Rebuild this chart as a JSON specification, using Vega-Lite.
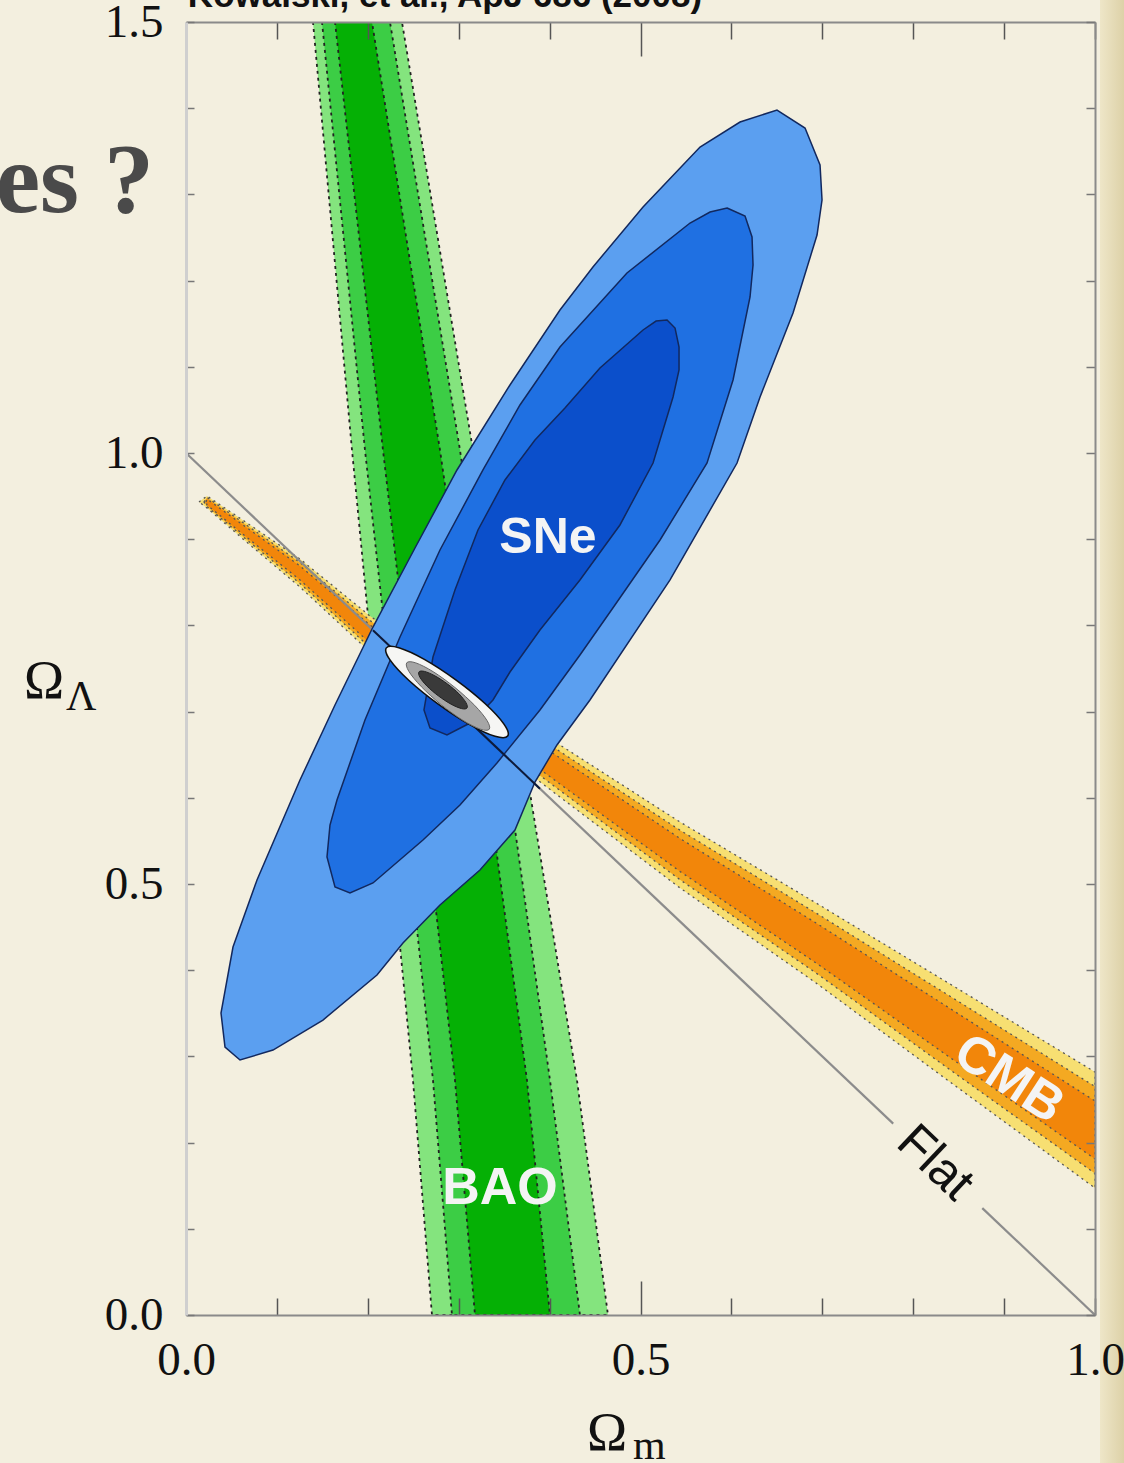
{
  "$schema": "https://vega.github.io/schema/vega-lite/v6.json",
  "width": 909,
  "height": 1293,
  "autosize": {"type": "none"},
  "padding": {"left": 186, "top": 22, "right": 29, "bottom": 148},
  "background": "#f3efdf",
  "config": {"view": {"stroke": null}},
  "datasets": {
    "poly": [
      {"g":"b1","i":0,"x":0.1397,"y":1.5},{"g":"b1","i":1,"x":0.1826,"y":1.0035},{"g":"b1","i":2,"x":0.2145,"y":0.6555},{"g":"b1","i":3,"x":0.2497,"y":0.2726},{"g":"b1","i":4,"x":0.2706,"y":0},{"g":"b1","i":5,"x":0.4642,"y":0},{"g":"b1","i":6,"x":0.4301,"y":0.2726},{"g":"b1","i":7,"x":0.3707,"y":0.6555},{"g":"b1","i":8,"x":0.3157,"y":1.0035},{"g":"b1","i":9,"x":0.2376,"y":1.5},
      {"g":"b2","i":0,"x":0.1496,"y":1.5},{"g":"b2","i":1,"x":0.1969,"y":1.0035},{"g":"b2","i":2,"x":0.2332,"y":0.6555},{"g":"b2","i":3,"x":0.2717,"y":0.2726},{"g":"b2","i":4,"x":0.2926,"y":0},{"g":"b2","i":5,"x":0.4334,"y":0},{"g":"b2","i":6,"x":0.4004,"y":0.2726},{"g":"b2","i":7,"x":0.3498,"y":0.6555},{"g":"b2","i":8,"x":0.3014,"y":1.0035},{"g":"b2","i":9,"x":0.2244,"y":1.5},
      {"g":"b3","i":0,"x":0.1639,"y":1.5},{"g":"b3","i":1,"x":0.2167,"y":1.0035},{"g":"b3","i":2,"x":0.2552,"y":0.6555},{"g":"b3","i":3,"x":0.2959,"y":0.2726},{"g":"b3","i":4,"x":0.3179,"y":0},{"g":"b3","i":5,"x":0.4004,"y":0},{"g":"b3","i":6,"x":0.3751,"y":0.2726},{"g":"b3","i":7,"x":0.3267,"y":0.6555},{"g":"b3","i":8,"x":0.2794,"y":1.0035},{"g":"b3","i":9,"x":0.2046,"y":1.5},
      {"g":"c1","i":0,"x":0.0143,"y":0.9432},{"g":"c1","i":1,"x":0.0231,"y":0.9501},{"g":"c1","i":2,"x":0.0704,"y":0.9165},{"g":"c1","i":3,"x":0.1254,"y":0.877},{"g":"c1","i":4,"x":0.2024,"y":0.8109},{"g":"c1","i":5,"x":0.3014,"y":0.7378},{"g":"c1","i":6,"x":0.4114,"y":0.6613},{"g":"c1","i":7,"x":0.5435,"y":0.5719},{"g":"c1","i":8,"x":0.6931,"y":0.478},{"g":"c1","i":9,"x":0.8405,"y":0.384},{"g":"c1","i":10,"x":1.0,"y":0.2819},{"g":"c1","i":11,"x":1.0,"y":0.1473},{"g":"c1","i":12,"x":0.8405,"y":0.2703},{"g":"c1","i":13,"x":0.6931,"y":0.3852},{"g":"c1","i":14,"x":0.5435,"y":0.4954},{"g":"c1","i":15,"x":0.4114,"y":0.6009},{"g":"c1","i":16,"x":0.3014,"y":0.6891},{"g":"c1","i":17,"x":0.2024,"y":0.7691},{"g":"c1","i":18,"x":0.1254,"y":0.8445},{"g":"c1","i":19,"x":0.0704,"y":0.8933},{"g":"c1","i":20,"x":0.0231,"y":0.9362},
      {"g":"c2","i":0,"x":0.0198,"y":0.9432},{"g":"c2","i":1,"x":0.0231,"y":0.9484},{"g":"c2","i":2,"x":0.0704,"y":0.9136},{"g":"c2","i":3,"x":0.1254,"y":0.873},{"g":"c2","i":4,"x":0.2024,"y":0.8057},{"g":"c2","i":5,"x":0.3014,"y":0.7317},{"g":"c2","i":6,"x":0.4114,"y":0.6537},{"g":"c2","i":7,"x":0.5435,"y":0.5624},{"g":"c2","i":8,"x":0.6931,"y":0.4664},{"g":"c2","i":9,"x":0.8405,"y":0.3698},{"g":"c2","i":10,"x":1.0,"y":0.2651},{"g":"c2","i":11,"x":1.0,"y":0.1642},{"g":"c2","i":12,"x":0.8405,"y":0.2845},{"g":"c2","i":13,"x":0.6931,"y":0.3968},{"g":"c2","i":14,"x":0.5435,"y":0.5049},{"g":"c2","i":15,"x":0.4114,"y":0.6085},{"g":"c2","i":16,"x":0.3014,"y":0.6952},{"g":"c2","i":17,"x":0.2024,"y":0.7744},{"g":"c2","i":18,"x":0.1254,"y":0.8486},{"g":"c2","i":19,"x":0.0704,"y":0.8962},{"g":"c2","i":20,"x":0.0231,"y":0.9379},
      {"g":"c3","i":0,"x":0.022,"y":0.9432},{"g":"c3","i":1,"x":0.0231,"y":0.9466},{"g":"c3","i":2,"x":0.0704,"y":0.9107},{"g":"c3","i":3,"x":0.1254,"y":0.8689},{"g":"c3","i":4,"x":0.2024,"y":0.8005},{"g":"c3","i":5,"x":0.3014,"y":0.7256},{"g":"c3","i":6,"x":0.4114,"y":0.6462},{"g":"c3","i":7,"x":0.5435,"y":0.5528},{"g":"c3","i":8,"x":0.6931,"y":0.4548},{"g":"c3","i":9,"x":0.8405,"y":0.3556},{"g":"c3","i":10,"x":1.0,"y":0.2483},{"g":"c3","i":11,"x":1.0,"y":0.181},{"g":"c3","i":12,"x":0.8405,"y":0.2987},{"g":"c3","i":13,"x":0.6931,"y":0.4084},{"g":"c3","i":14,"x":0.5435,"y":0.5145},{"g":"c3","i":15,"x":0.4114,"y":0.616},{"g":"c3","i":16,"x":0.3014,"y":0.7013},{"g":"c3","i":17,"x":0.2024,"y":0.7796},{"g":"c3","i":18,"x":0.1254,"y":0.8527},{"g":"c3","i":19,"x":0.0704,"y":0.8991},{"g":"c3","i":20,"x":0.0231,"y":0.9397},
      {"g":"s1","i":0,"x":0.6502,"y":1.3979},{"g":"s1","i":1,"x":0.681,"y":1.377},{"g":"s1","i":2,"x":0.6975,"y":1.3341},{"g":"s1","i":3,"x":0.6997,"y":1.2935},{"g":"s1","i":4,"x":0.6942,"y":1.2529},{"g":"s1","i":5,"x":0.6678,"y":1.1624},{"g":"s1","i":6,"x":0.6315,"y":1.065},{"g":"s1","i":7,"x":0.6062,"y":0.9884},{"g":"s1","i":8,"x":0.5325,"y":0.8527},{"g":"s1","i":9,"x":0.4444,"y":0.7135},{"g":"s1","i":10,"x":0.4081,"y":0.6613},{"g":"s1","i":11,"x":0.3839,"y":0.6183},{"g":"s1","i":12,"x":0.3619,"y":0.5626},{"g":"s1","i":13,"x":0.3234,"y":0.5162},{"g":"s1","i":14,"x":0.2794,"y":0.4756},{"g":"s1","i":15,"x":0.2387,"y":0.4316},{"g":"s1","i":16,"x":0.2101,"y":0.3944},{"g":"s1","i":17,"x":0.1507,"y":0.3422},{"g":"s1","i":18,"x":0.0957,"y":0.3074},{"g":"s1","i":19,"x":0.0594,"y":0.2958},{"g":"s1","i":20,"x":0.0429,"y":0.3109},{"g":"s1","i":21,"x":0.0385,"y":0.3503},{"g":"s1","i":22,"x":0.0517,"y":0.4269},{"g":"s1","i":23,"x":0.0781,"y":0.5046},{"g":"s1","i":24,"x":0.1254,"y":0.6206},{"g":"s1","i":25,"x":0.1639,"y":0.7077},{"g":"s1","i":26,"x":0.2057,"y":0.7981},{"g":"s1","i":27,"x":0.2519,"y":0.8898},{"g":"s1","i":28,"x":0.2981,"y":0.9803},{"g":"s1","i":29,"x":0.3564,"y":1.0789},{"g":"s1","i":30,"x":0.4114,"y":1.1659},{"g":"s1","i":31,"x":0.4477,"y":1.2158},{"g":"s1","i":32,"x":0.5028,"y":1.2854},{"g":"s1","i":33,"x":0.5655,"y":1.355},{"g":"s1","i":34,"x":0.6095,"y":1.384},
      {"g":"s2","i":0,"x":0.5952,"y":1.2842},{"g":"s2","i":1,"x":0.615,"y":1.2749},{"g":"s2","i":2,"x":0.6227,"y":1.2506},{"g":"s2","i":3,"x":0.6238,"y":1.2181},{"g":"s2","i":4,"x":0.6205,"y":1.181},{"g":"s2","i":5,"x":0.6018,"y":1.0847},{"g":"s2","i":6,"x":0.5732,"y":0.9884},{"g":"s2","i":7,"x":0.5215,"y":0.8991},{"g":"s2","i":8,"x":0.4719,"y":0.8237},{"g":"s2","i":9,"x":0.4334,"y":0.7657},{"g":"s2","i":10,"x":0.3894,"y":0.7019},{"g":"s2","i":11,"x":0.3421,"y":0.6404},{"g":"s2","i":12,"x":0.3014,"y":0.5916},{"g":"s2","i":13,"x":0.2607,"y":0.551},{"g":"s2","i":14,"x":0.2057,"y":0.5012},{"g":"s2","i":15,"x":0.1804,"y":0.4896},{"g":"s2","i":16,"x":0.1639,"y":0.4965},{"g":"s2","i":17,"x":0.1551,"y":0.5313},{"g":"s2","i":18,"x":0.1584,"y":0.5684},{"g":"s2","i":19,"x":0.1661,"y":0.5974},{"g":"s2","i":20,"x":0.1969,"y":0.6903},{"g":"s2","i":21,"x":0.2354,"y":0.7865},{"g":"s2","i":22,"x":0.2794,"y":0.8875},{"g":"s2","i":23,"x":0.3267,"y":0.9803},{"g":"s2","i":24,"x":0.3674,"y":1.0557},{"g":"s2","i":25,"x":0.4114,"y":1.123},{"g":"s2","i":26,"x":0.4851,"y":1.2088},{"g":"s2","i":27,"x":0.5545,"y":1.2668},{"g":"s2","i":28,"x":0.5765,"y":1.2796},
      {"g":"s3","i":0,"x":0.5292,"y":1.1543},{"g":"s3","i":1,"x":0.538,"y":1.145},{"g":"s3","i":2,"x":0.5424,"y":1.123},{"g":"s3","i":3,"x":0.5424,"y":1.0963},{"g":"s3","i":4,"x":0.5358,"y":1.065},{"g":"s3","i":5,"x":0.5138,"y":0.9884},{"g":"s3","i":6,"x":0.4774,"y":0.9165},{"g":"s3","i":7,"x":0.4334,"y":0.8527},{"g":"s3","i":8,"x":0.3894,"y":0.7947},{"g":"s3","i":9,"x":0.3564,"y":0.7459},{"g":"s3","i":10,"x":0.3377,"y":0.7135},{"g":"s3","i":11,"x":0.3146,"y":0.6879},{"g":"s3","i":12,"x":0.2871,"y":0.6729},{"g":"s3","i":13,"x":0.2684,"y":0.681},{"g":"s3","i":14,"x":0.2618,"y":0.7019},{"g":"s3","i":15,"x":0.2717,"y":0.7633},{"g":"s3","i":16,"x":0.2959,"y":0.8411},{"g":"s3","i":17,"x":0.3212,"y":0.9107},{"g":"s3","i":18,"x":0.3509,"y":0.9687},{"g":"s3","i":19,"x":0.3839,"y":1.0151},{"g":"s3","i":20,"x":0.4169,"y":1.0522},{"g":"s3","i":21,"x":0.4554,"y":1.0986},{"g":"s3","i":22,"x":0.5028,"y":1.1427},{"g":"s3","i":23,"x":0.5171,"y":1.1531},
      {"g":"w","i":0,"x":0.3539,"y":0.6716},{"g":"w","i":1,"x":0.34,"y":0.6713},{"g":"w","i":2,"x":0.3121,"y":0.6849},{"g":"w","i":3,"x":0.2775,"y":0.7087},{"g":"w","i":4,"x":0.2453,"y":0.7361},{"g":"w","i":5,"x":0.2244,"y":0.76},{"g":"w","i":6,"x":0.2204,"y":0.7739},{"g":"w","i":7,"x":0.2342,"y":0.7741},{"g":"w","i":8,"x":0.2622,"y":0.7606},{"g":"w","i":9,"x":0.2968,"y":0.7368},{"g":"w","i":10,"x":0.3289,"y":0.7094},{"g":"w","i":11,"x":0.3498,"y":0.6855},
      {"g":"gr","i":0,"x":0.3336,"y":0.6795},{"g":"gr","i":1,"x":0.3237,"y":0.6797},{"g":"gr","i":2,"x":0.3043,"y":0.6901},{"g":"gr","i":3,"x":0.2806,"y":0.7081},{"g":"gr","i":4,"x":0.259,"y":0.7288},{"g":"gr","i":5,"x":0.2452,"y":0.7466},{"g":"gr","i":6,"x":0.2429,"y":0.7567},{"g":"gr","i":7,"x":0.2528,"y":0.7565},{"g":"gr","i":8,"x":0.2722,"y":0.7461},{"g":"gr","i":9,"x":0.2958,"y":0.728},{"g":"gr","i":10,"x":0.3175,"y":0.7073},{"g":"gr","i":11,"x":0.3312,"y":0.6896},
      {"g":"k","i":0,"x":0.3091,"y":0.7041},{"g":"k","i":1,"x":0.3031,"y":0.7035},{"g":"k","i":2,"x":0.2916,"y":0.7086},{"g":"k","i":3,"x":0.2778,"y":0.7181},{"g":"k","i":4,"x":0.2652,"y":0.7295},{"g":"k","i":5,"x":0.2574,"y":0.7397},{"g":"k","i":6,"x":0.2563,"y":0.7461},{"g":"k","i":7,"x":0.2624,"y":0.7466},{"g":"k","i":8,"x":0.2738,"y":0.7415},{"g":"k","i":9,"x":0.2877,"y":0.732},{"g":"k","i":10,"x":0.3002,"y":0.7207},{"g":"k","i":11,"x":0.308,"y":0.7104}
    ],
    "flat": [
      {"seg":"a","x":0,"y":1},{"seg":"a","x":0.778,"y":0.222},
      {"seg":"b","x":0.876,"y":0.124},{"seg":"b","x":1,"y":0}
    ],
    "flatin": [
      {"seg":"d","x":0.2057,"y":0.7943},{"seg":"d","x":0.3894,"y":0.6106}
    ]
  },
  "resolve": {"axis": {"x": "independent", "y": "independent"}},
  "layer": [
    {
      "data": {"values": [{"x": 1.0055, "x2": 1.04, "y": -0.3, "y2": 1.75}]},
      "mark": {"type": "rect", "fill": {"gradient": "linear", "x1": 0, "x2": 1, "y1": 0, "y2": 0, "stops": [{"offset": 0, "color": "#eee6c8"}, {"offset": 1, "color": "#d8cb9e"}]}},
      "encoding": {
        "x": {"field": "x", "type": "quantitative", "scale": {"domain": [0, 1], "nice": false}, "axis": null},
        "x2": {"field": "x2"},
        "y": {"field": "y", "type": "quantitative", "scale": {"domain": [0, 1.5], "nice": false}, "axis": null},
        "y2": {"field": "y2"}
      }
    },
    {
      "data": {"name": "poly"},
      "transform": [{"filter": "datum.g === 'b1'"}],
      "mark": {"type": "line", "interpolate": "linear-closed", "fill": "#84e47e", "stroke": "#222", "strokeWidth": 1.8, "strokeDash": [3, 4], "clip": true},
      "encoding": {
        "x": {"field": "x", "type": "quantitative", "scale": {"domain": [0, 1], "nice": false},
          "axis": {"orient": "bottom", "values": [0, 0.5, 1], "format": ".1f", "ticks": false, "domain": false, "grid": false, "title": null, "labelFont": "Liberation Serif", "labelFontSize": 47, "labelColor": "#111", "labelPadding": 22, "labelFlush": false, "labelOverlap": false, "zindex": 2}},
        "y": {"field": "y", "type": "quantitative", "scale": {"domain": [0, 1.5], "nice": false},
          "axis": {"orient": "left", "values": [0, 0.5, 1, 1.5], "format": ".1f", "ticks": false, "domain": false, "grid": false, "title": null, "labelFont": "Liberation Serif", "labelFontSize": 47, "labelColor": "#111", "labelPadding": 23, "labelFlush": false, "labelOverlap": false, "zindex": 2}},
        "order": {"field": "i", "type": "quantitative"}
      }
    },
    {
      "data": {"name": "poly"},
      "transform": [{"filter": "datum.g === 'b2'"}],
      "mark": {"type": "line", "interpolate": "linear-closed", "fill": "#3ccd45", "stroke": "#222", "strokeWidth": 1.8, "strokeDash": [3, 4], "clip": true},
      "encoding": {
        "x": {"field": "x", "type": "quantitative", "scale": {"domain": [0, 1], "nice": false},
          "axis": {"orient": "bottom", "values": [0, 0.1, 0.2, 0.3, 0.4, 0.5, 0.6, 0.7, 0.8, 0.9, 1], "labels": false, "grid": false, "title": null, "domain": true, "domainColor": "#8a8a8a", "domainWidth": 2, "tickColor": "#555", "tickWidth": 1.5, "tickSize": {"condition": {"test": "datum.value === 0.5", "value": -34}, "value": -17}, "zindex": 1}},
        "y": {"field": "y", "type": "quantitative", "scale": {"domain": [0, 1.5], "nice": false},
          "axis": {"orient": "left", "values": [0, 0.1, 0.2, 0.3, 0.4, 0.5, 0.6, 0.7, 0.8, 0.9, 1, 1.1, 1.2, 1.3, 1.4, 1.5], "labels": false, "grid": false, "title": null, "domain": true, "domainColor": "#cfcfcf", "domainWidth": 3, "tickColor": "#777", "tickWidth": 1.5, "tickSize": -8, "zindex": 1}},
        "order": {"field": "i", "type": "quantitative"}
      }
    },
    {
      "data": {"name": "poly"},
      "transform": [{"filter": "datum.g === 'b3'"}],
      "mark": {"type": "line", "interpolate": "linear-closed", "fill": "#05b005", "stroke": "#222", "strokeWidth": 1.8, "strokeDash": [3, 4], "clip": true},
      "encoding": {
        "x": {"field": "x", "type": "quantitative", "scale": {"domain": [0, 1], "nice": false},
          "axis": {"orient": "top", "values": [0, 0.1, 0.2, 0.3, 0.4, 0.5, 0.6, 0.7, 0.8, 0.9, 1], "labels": false, "grid": false, "title": null, "domain": true, "domainColor": "#8a8a8a", "domainWidth": 2, "tickColor": "#555", "tickWidth": 1.5, "tickSize": {"condition": {"test": "datum.value === 0.5", "value": -34}, "value": -17}, "zindex": 1}},
        "y": {"field": "y", "type": "quantitative", "scale": {"domain": [0, 1.5], "nice": false},
          "axis": {"orient": "right", "values": [0, 0.1, 0.2, 0.3, 0.4, 0.5, 0.6, 0.7, 0.8, 0.9, 1, 1.1, 1.2, 1.3, 1.4, 1.5], "labels": false, "grid": false, "title": null, "domain": true, "domainColor": "#8a8a8a", "domainWidth": 2, "tickColor": "#777", "tickWidth": 1.5, "tickSize": -9, "zindex": 1}},
        "order": {"field": "i", "type": "quantitative"}
      }
    },
    {
      "data": {"name": "poly"},
      "transform": [{"filter": "datum.g === 'c1'"}],
      "mark": {"type": "line", "interpolate": "linear-closed", "fill": "#f7df72", "stroke": "#555", "strokeWidth": 1.3, "strokeDash": [2, 4], "clip": true},
      "encoding": {
        "x": {"field": "x", "type": "quantitative", "scale": {"domain": [0, 1], "nice": false}, "axis": null},
        "y": {"field": "y", "type": "quantitative", "scale": {"domain": [0, 1.5], "nice": false}, "axis": null},
        "order": {"field": "i", "type": "quantitative"}
      }
    },
    {
      "data": {"name": "poly"},
      "transform": [{"filter": "datum.g === 'c2'"}],
      "mark": {"type": "line", "interpolate": "linear-closed", "fill": "#f4a922", "stroke": "#555", "strokeWidth": 1.3, "strokeDash": [2, 4], "clip": true},
      "encoding": {
        "x": {"field": "x", "type": "quantitative", "scale": {"domain": [0, 1], "nice": false}, "axis": null},
        "y": {"field": "y", "type": "quantitative", "scale": {"domain": [0, 1.5], "nice": false}, "axis": null},
        "order": {"field": "i", "type": "quantitative"}
      }
    },
    {
      "data": {"name": "poly"},
      "transform": [{"filter": "datum.g === 'c3'"}],
      "mark": {"type": "line", "interpolate": "linear-closed", "fill": "#f2860a", "stroke": "#555", "strokeWidth": 1.3, "strokeDash": [2, 4], "clip": true},
      "encoding": {
        "x": {"field": "x", "type": "quantitative", "scale": {"domain": [0, 1], "nice": false}, "axis": null},
        "y": {"field": "y", "type": "quantitative", "scale": {"domain": [0, 1.5], "nice": false}, "axis": null},
        "order": {"field": "i", "type": "quantitative"}
      }
    },
    {
      "data": {"name": "flat"},
      "mark": {"type": "line", "stroke": "#8c8c8c", "strokeWidth": 2.2, "clip": true},
      "encoding": {
        "x": {"field": "x", "type": "quantitative", "scale": {"domain": [0, 1], "nice": false}, "axis": null},
        "y": {"field": "y", "type": "quantitative", "scale": {"domain": [0, 1.5], "nice": false}, "axis": null},
        "detail": {"field": "seg", "type": "nominal"}
      }
    },
    {
      "data": {"name": "poly"},
      "transform": [{"filter": "datum.g === 's1'"}],
      "mark": {"type": "line", "interpolate": "linear-closed", "fill": "#5b9ff0", "stroke": "#12285e", "strokeWidth": 1.5, "clip": true},
      "encoding": {
        "x": {"field": "x", "type": "quantitative", "scale": {"domain": [0, 1], "nice": false}, "axis": null},
        "y": {"field": "y", "type": "quantitative", "scale": {"domain": [0, 1.5], "nice": false}, "axis": null},
        "order": {"field": "i", "type": "quantitative"}
      }
    },
    {
      "data": {"name": "poly"},
      "transform": [{"filter": "datum.g === 's2'"}],
      "mark": {"type": "line", "interpolate": "linear-closed", "fill": "#1f70e2", "stroke": "#12285e", "strokeWidth": 1.5, "clip": true},
      "encoding": {
        "x": {"field": "x", "type": "quantitative", "scale": {"domain": [0, 1], "nice": false}, "axis": null},
        "y": {"field": "y", "type": "quantitative", "scale": {"domain": [0, 1.5], "nice": false}, "axis": null},
        "order": {"field": "i", "type": "quantitative"}
      }
    },
    {
      "data": {"name": "poly"},
      "transform": [{"filter": "datum.g === 's3'"}],
      "mark": {"type": "line", "interpolate": "linear-closed", "fill": "#0b4fcb", "stroke": "#12285e", "strokeWidth": 1.5, "clip": true},
      "encoding": {
        "x": {"field": "x", "type": "quantitative", "scale": {"domain": [0, 1], "nice": false}, "axis": null},
        "y": {"field": "y", "type": "quantitative", "scale": {"domain": [0, 1.5], "nice": false}, "axis": null},
        "order": {"field": "i", "type": "quantitative"}
      }
    },
    {
      "data": {"name": "flatin"},
      "mark": {"type": "line", "stroke": "#0d1a3a", "strokeWidth": 2, "clip": true},
      "encoding": {
        "x": {"field": "x", "type": "quantitative", "scale": {"domain": [0, 1], "nice": false}, "axis": null},
        "y": {"field": "y", "type": "quantitative", "scale": {"domain": [0, 1.5], "nice": false}, "axis": null}
      }
    },
    {
      "data": {"name": "poly"},
      "transform": [{"filter": "datum.g === 'w'"}],
      "mark": {"type": "line", "interpolate": "cardinal-closed", "fill": "#f6f6f4", "stroke": "#111", "strokeWidth": 1.6, "clip": true},
      "encoding": {
        "x": {"field": "x", "type": "quantitative", "scale": {"domain": [0, 1], "nice": false}, "axis": null},
        "y": {"field": "y", "type": "quantitative", "scale": {"domain": [0, 1.5], "nice": false}, "axis": null},
        "order": {"field": "i", "type": "quantitative"}
      }
    },
    {
      "data": {"name": "poly"},
      "transform": [{"filter": "datum.g === 'gr'"}],
      "mark": {"type": "line", "interpolate": "cardinal-closed", "fill": "#a6a6a6", "stroke": "#666", "strokeWidth": 1, "clip": true},
      "encoding": {
        "x": {"field": "x", "type": "quantitative", "scale": {"domain": [0, 1], "nice": false}, "axis": null},
        "y": {"field": "y", "type": "quantitative", "scale": {"domain": [0, 1.5], "nice": false}, "axis": null},
        "order": {"field": "i", "type": "quantitative"}
      }
    },
    {
      "data": {"name": "poly"},
      "transform": [{"filter": "datum.g === 'k'"}],
      "mark": {"type": "line", "interpolate": "cardinal-closed", "fill": "#3a3a3a", "stroke": "#222", "strokeWidth": 1, "clip": true},
      "encoding": {
        "x": {"field": "x", "type": "quantitative", "scale": {"domain": [0, 1], "nice": false}, "axis": null},
        "y": {"field": "y", "type": "quantitative", "scale": {"domain": [0, 1.5], "nice": false}, "axis": null},
        "order": {"field": "i", "type": "quantitative"}
      }
    },
    {
      "data": {"values": [{"t": "SNe", "x": 0.3982, "y": 0.9014}]},
      "mark": {"type": "text", "font": "Liberation Sans", "fontWeight": "bold", "fontSize": 50, "fill": "#f4f4f4", "align": "center", "baseline": "middle"},
      "encoding": {
        "x": {"field": "x", "type": "quantitative", "scale": {"domain": [0, 1], "nice": false}, "axis": null},
        "y": {"field": "y", "type": "quantitative", "scale": {"domain": [0, 1.5], "nice": false}, "axis": null},
        "text": {"field": "t"}
      }
    },
    {
      "data": {"values": [{"t": "BAO", "x": 0.3454, "y": 0.1473}]},
      "mark": {"type": "text", "font": "Liberation Sans", "fontWeight": "bold", "fontSize": 52, "fill": "#f4f4f4", "align": "center", "baseline": "middle"},
      "encoding": {
        "x": {"field": "x", "type": "quantitative", "scale": {"domain": [0, 1], "nice": false}, "axis": null},
        "y": {"field": "y", "type": "quantitative", "scale": {"domain": [0, 1.5], "nice": false}, "axis": null},
        "text": {"field": "t"}
      }
    },
    {
      "data": {"values": [{"t": "CMB", "x": 0.9054, "y": 0.2738}]},
      "mark": {"type": "text", "font": "Liberation Sans", "fontWeight": "bold", "fontSize": 52, "fill": "#f4f4f4", "align": "center", "baseline": "middle", "angle": 33},
      "encoding": {
        "x": {"field": "x", "type": "quantitative", "scale": {"domain": [0, 1], "nice": false}, "axis": null},
        "y": {"field": "y", "type": "quantitative", "scale": {"domain": [0, 1.5], "nice": false}, "axis": null},
        "text": {"field": "t"}
      }
    },
    {
      "data": {"values": [{"t": "Flat", "x": 0.824, "y": 0.1763}]},
      "mark": {"type": "text", "font": "Liberation Sans", "fontSize": 50, "fill": "#111", "align": "center", "baseline": "middle", "angle": 43.5},
      "encoding": {
        "x": {"field": "x", "type": "quantitative", "scale": {"domain": [0, 1], "nice": false}, "axis": null},
        "y": {"field": "y", "type": "quantitative", "scale": {"domain": [0, 1.5], "nice": false}, "axis": null},
        "text": {"field": "t"}
      }
    },
    {
      "data": {"values": [{"t": "Ω", "x": 0.4631, "y": -0.1566}, {"t": "Ω", "x": -0.1562, "y": 0.7158}]},
      "mark": {"type": "text", "font": "Liberation Serif", "fontSize": 54, "fill": "#111", "align": "center", "baseline": "alphabetic"},
      "encoding": {
        "x": {"field": "x", "type": "quantitative", "scale": {"domain": [0, 1], "nice": false}, "axis": null},
        "y": {"field": "y", "type": "quantitative", "scale": {"domain": [0, 1.5], "nice": false}, "axis": null},
        "text": {"field": "t"}
      }
    },
    {
      "data": {"values": [{"t": "m", "x": 0.4917, "y": -0.1665}, {"t": "Λ", "x": -0.132, "y": 0.7019}]},
      "mark": {"type": "text", "font": "Liberation Serif", "fontSize": 42, "fill": "#111", "align": "left", "baseline": "alphabetic"},
      "encoding": {
        "x": {"field": "x", "type": "quantitative", "scale": {"domain": [0, 1], "nice": false}, "axis": null},
        "y": {"field": "y", "type": "quantitative", "scale": {"domain": [0, 1.5], "nice": false}, "axis": null},
        "text": {"field": "t"}
      }
    },
    {
      "data": {"values": [{"t": "Kowalski, et al., ApJ 686 (2008)", "x": 0.2849, "y": 1.5174}]},
      "mark": {"type": "text", "font": "Liberation Sans", "fontWeight": "bold", "fontSize": 35, "fill": "#111", "align": "center", "baseline": "alphabetic"},
      "encoding": {
        "x": {"field": "x", "type": "quantitative", "scale": {"domain": [0, 1], "nice": false}, "axis": null},
        "y": {"field": "y", "type": "quantitative", "scale": {"domain": [0, 1.5], "nice": false}, "axis": null},
        "text": {"field": "t"}
      }
    },
    {
      "data": {"values": [{"t": "es ?", "x": -0.0352, "y": 1.2796}]},
      "mark": {"type": "text", "font": "Liberation Serif", "fontWeight": "bold", "fontSize": 100, "fill": "#4a4a4a", "align": "right", "baseline": "alphabetic"},
      "encoding": {
        "x": {"field": "x", "type": "quantitative", "scale": {"domain": [0, 1], "nice": false}, "axis": null},
        "y": {"field": "y", "type": "quantitative", "scale": {"domain": [0, 1.5], "nice": false}, "axis": null},
        "text": {"field": "t"}
      }
    }
  ]
}
